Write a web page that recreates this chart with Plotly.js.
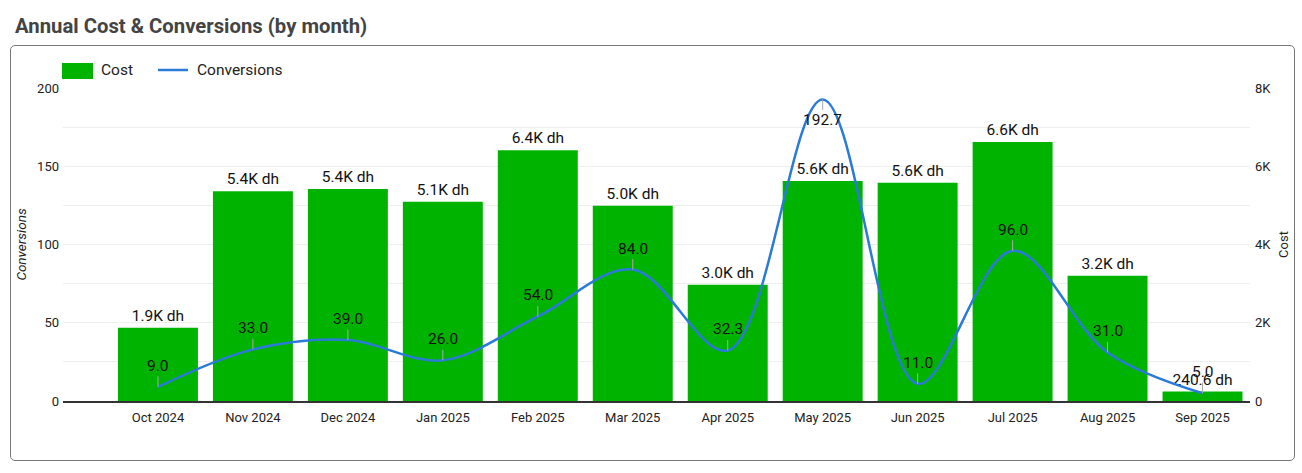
<!DOCTYPE html>
<html>
<head>
<meta charset="utf-8">
<script src="https://cdn.plot.ly/plotly-3.0.1.min.js"></script>
<style>
body{margin:0;background:#fff;font-family:Roboto,sans-serif;}
#ttl{position:absolute;left:15px;top:14px;font-size:20.3px;font-weight:bold;color:#444;line-height:24px;}
#box{position:absolute;left:10px;top:45px;width:1283px;height:414px;border:1px solid #777;border-radius:5px;}
#chart{position:absolute;left:0;top:0;width:1283px;height:414px;}
</style>
</head>
<body>
<div id="ttl">Annual Cost &amp; Conversions (by month)</div>
<div id="box"><div id="chart"></div></div>
<script>
// donnees
var months = ['Oct 2024','Nov 2024','Dec 2024','Jan 2025','Feb 2025','Mar 2025','Apr 2025','May 2025','Jun 2025','Jul 2025','Aug 2025','Sep 2025'];
var cost = [1870, 5360, 5420, 5090, 6410, 4990, 2970, 5620, 5580, 6620, 3200, 240.6];
var conversions = [9, 33, 39, 26, 54, 84, 32.3, 192.7, 11, 96, 31, 5];
var costTicks = [0, 2000, 4000, 6000, 8000];
var costTickText = ['0', '2K', '4K', '6K', '8K'];

function fmtCost(v){
	if (v>=1000) return (v/1000).toFixed(1)+'K dh';
	return v.toFixed(1)+' dh';
}

var green='#00b300';
var blue='#2a7ad8';
var lblSize=15.5;

var traceCost = {
	x: months,
	y: cost,
	type: 'bar',
	name: 'Cost',
	marker: {color: green},
	text: cost.map(fmtCost),
	textposition: 'outside',
	textfont: {family: 'Roboto', size: lblSize, color: '#111'},
	cliponaxis: false,
	hoverinfo: 'x+y'
};
var traceConv = {
	x: months,
	y: conversions,
	type: 'scatter',
	mode: 'lines',
	name: 'Conversions',
	yaxis: 'y2',
	line: {color: blue, width: 2.5, shape: 'spline', smoothing: 1},
	cliponaxis: false
};

// etiquettes de la courbe
var notes = [];
for (var i = 0; i < months.length; i++){
	var up = conversions[i] < 150;
	notes.push({
		x: months[i], y: conversions[i], xref: 'x', yref: 'y2',
		text: conversions[i].toFixed(1),
		showarrow: true, arrowhead: 0, arrowwidth: 1, arrowcolor: '#aaa',
		ax: 0, ay: up ? -21 : 21,
		font: {family: 'Roboto', size: lblSize, color: '#111'}
	});
}
// legende faite a la main
notes.push({xref:'paper', yref:'paper', x:0, y:1, xshift:36, yshift:18, xanchor:'left', yanchor:'middle',
	text:'Cost', showarrow:false, font:{family:'Roboto', size:lblSize, color:'#222'}});
notes.push({xref:'paper', yref:'paper', x:0, y:1, xshift:132, yshift:18, xanchor:'left', yanchor:'middle',
	text:'Conversions', showarrow:false, font:{family:'Roboto', size:lblSize, color:'#222'}});

var shapes = [
	{type:'rect', xref:'paper', yref:'paper', xsizemode:'pixel', ysizemode:'pixel', xanchor:0, yanchor:1,
	 x0:-1, x1:30, y0:9, y1:25, fillcolor:green, line:{width:0}},
	{type:'line', xref:'paper', yref:'paper', xsizemode:'pixel', ysizemode:'pixel', xanchor:0, yanchor:1,
	 x0:95, x1:125, y0:18, y1:18, line:{color:blue, width:2.5}}
];

var layout = {
	width: 1283, height: 414,
	margin: {l: 52, r: 44, t: 42, b: 59},
	paper_bgcolor: 'rgba(0,0,0,0)',
	plot_bgcolor: 'rgba(0,0,0,0)',
	font: {family: 'Roboto', size: 13, color: '#222'},
	showlegend: false,
	bargap: 0.158,
	xaxis: {
		type: 'category',
		range: [-1, 11.5],
		showgrid: false,
		showline: true, linecolor: '#333', linewidth: 2,
		ticks: '',
		ticklabelstandoff: 3,
		tickfont: {size: 13, color: '#222'}
	},
	yaxis: {
		side: 'right',
		range: [0, 8000],
		tickvals: costTicks,
		ticktext: costTickText,
		showgrid: true, gridcolor: '#eeeeee', gridwidth: 1,
		minor: {dtick: 1000, showgrid: true, gridcolor: '#eeeeee'},
		zeroline: false,
		ticklabelstandoff: 4,
		tickfont: {size: 13, color: '#222'},
		title: {text: 'Cost', standoff: 8, font: {size: 13, color: '#222'}}
	},
	yaxis2: {
		side: 'left',
		overlaying: 'y',
		range: [0, 200],
		dtick: 50,
		showgrid: false,
		zeroline: false,
		ticklabelstandoff: 3,
		tickfont: {size: 13, color: '#222'},
		title: {text: '<i>Conversions</i>', standoff: 7, font: {size: 13.5, color: '#222'}}
	},
	annotations: notes,
	shapes: shapes
};

Plotly.newPlot('chart', [traceCost, traceConv], layout, {displayModeBar: false, staticPlot: true});
</script>
</body>
</html>
